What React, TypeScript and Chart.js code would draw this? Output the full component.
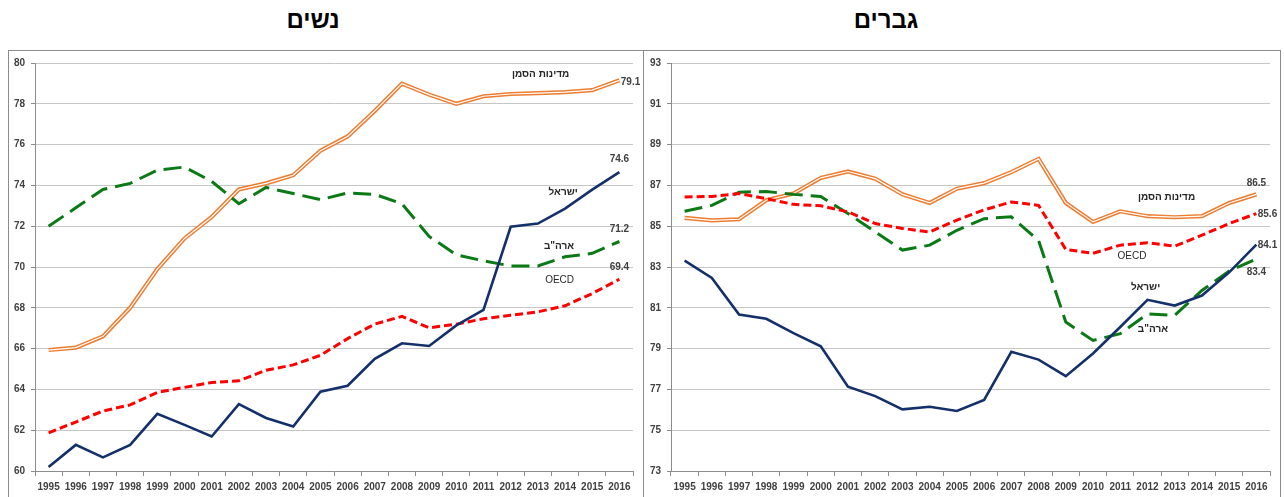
import React, { useEffect, useRef } from 'react';
import { Chart, registerables } from 'chart.js';

Chart.register(...registerables);

const years = ['1995','1996','1997','1998','1999','2000','2001','2002','2003','2004','2005','2006','2007','2008','2009','2010','2011','2012','2013','2014','2015','2016'];

// Women (left panel)
const womenIsrael = [60.2,61.28,60.67,61.28,62.8,62.26,61.69,63.28,62.6,62.18,63.89,64.18,65.5,66.26,66.13,67.14,67.9,71.97,72.13,72.86,73.79,74.65];
const womenUSA = [72.0,72.9,73.8,74.1,74.75,74.9,74.2,73.1,73.9,73.6,73.3,73.63,73.56,73.1,71.5,70.6,70.3,70.05,70.05,70.5,70.67,71.25];
const womenOECD = [61.87,62.4,62.94,63.24,63.85,64.1,64.34,64.42,64.94,65.2,65.67,66.49,67.2,67.58,67.02,67.2,67.46,67.63,67.8,68.1,68.7,69.4];
const womenBenchmark = [65.93,66.05,66.6,68.0,69.9,71.4,72.45,73.8,74.1,74.5,75.7,76.4,77.65,78.99,78.45,78.0,78.37,78.48,78.52,78.57,78.67,79.15];

// Men (right panel)
const menIsrael = [83.31,82.46,80.67,80.46,79.76,79.11,77.13,76.67,76.02,76.15,75.94,76.48,78.84,78.46,77.65,78.76,80.06,81.39,81.11,81.6,82.74,84.1];
const menUSA = [85.73,86.02,86.67,86.7,86.56,86.46,85.62,84.72,83.83,84.07,84.8,85.37,85.46,84.3,80.3,79.4,79.73,80.7,80.63,81.85,82.8,83.4];
const menOECD = [86.43,86.46,86.6,86.35,86.07,86.0,85.7,85.13,84.89,84.72,85.3,85.8,86.19,86.02,83.86,83.67,84.07,84.19,84.02,84.56,85.13,85.62];
const menBenchmark = [85.41,85.29,85.34,86.27,86.6,87.37,87.68,87.33,86.56,86.14,86.84,87.11,87.65,88.3,86.14,85.21,85.73,85.49,85.44,85.49,86.14,86.56];

const womenTitle = 'נשים';
const menTitle = 'גברים';

type Note = { text: string; x: number; y: number; align: CanvasTextAlign; bold: boolean; rtl?: boolean };

const womenNotes: Note[] = [
  { text: 'מדינות הסמן', x: 18.1, y: 79.46, align: 'center', bold: true, rtl: true },
  { text: '79.1', x: 21.05, y: 79.07, align: 'left', bold: true },
  { text: '74.6', x: 21.0, y: 75.26, align: 'center', bold: true },
  { text: 'ישראל', x: 18.93, y: 73.66, align: 'center', bold: true, rtl: true },
  { text: '71.2', x: 21.0, y: 71.83, align: 'center', bold: true },
  { text: 'ארה"ב', x: 18.78, y: 71.0, align: 'center', bold: true, rtl: true },
  { text: '69.4', x: 21.0, y: 69.98, align: 'center', bold: true },
  { text: 'OECD', x: 18.8, y: 69.34, align: 'center', bold: false },
];

const menNotes: Note[] = [
  { text: '86.5', x: 21.0, y: 87.12, align: 'center', bold: true },
  { text: 'מדינות הסמן', x: 17.7, y: 86.4, align: 'center', bold: true, rtl: true },
  { text: '85.6', x: 21.05, y: 85.6, align: 'left', bold: true },
  { text: 'OECD', x: 16.43, y: 83.51, align: 'center', bold: false },
  { text: '84.1', x: 21.05, y: 84.05, align: 'left', bold: true },
  { text: '83.4', x: 21.0, y: 82.73, align: 'center', bold: true },
  { text: 'ישראל', x: 16.93, y: 82.01, align: 'center', bold: true, rtl: true },
  { text: 'ארה"ב', x: 17.2, y: 79.93, align: 'center', bold: true, rtl: true },
];

const FONT = '"Liberation Sans", "DejaVu Sans", Arial, sans-serif';
const NAVY = '#14306B';
const GREEN = '#0B7A16';
const RED = '#FF0000';
const ORANGE = '#ED7D31';
const GRID = '#C6C6C6';
const AXIS = '#8C8C8C';
const TICK_TEXT = '#404040';

type PanelProps = {
  left: number;
  width: number;
  yAxisWidth: number;
  min: number;
  max: number;
  israel: number[];
  usa: number[];
  oecd: number[];
  bench: number[];
  notes: Note[];
};

function Panel(props: PanelProps) {
  const ref = useRef<HTMLCanvasElement | null>(null);
  useEffect(() => {
    const canvas = ref.current;
    if (!canvas) return;
    const notesPlugin = {
      id: 'notes',
      afterDatasetsDraw(chart: any) {
        const ctx = chart.ctx as CanvasRenderingContext2D;
        const xs = chart.scales.x;
        const ys = chart.scales.y;
        ctx.save();
        for (const n of props.notes) {
          ctx.font = `${n.bold ? 'bold ' : ''}10px ${FONT}`;
          ctx.fillStyle = n.rtl || !n.bold ? '#262626' : '#404040';
          ctx.textAlign = n.align;
          ctx.textBaseline = 'middle';
          (ctx as any).direction = n.rtl ? 'rtl' : 'ltr';
          ctx.fillText(n.text, xs.getPixelForValue(n.x), ys.getPixelForValue(n.y));
        }
        ctx.restore();
      },
    };
    const chart = new Chart(canvas, {
      type: 'line',
      data: {
        labels: years,
        datasets: [
          { data: props.israel, borderColor: NAVY, borderWidth: 2.6, pointRadius: 0, tension: 0, order: 1 },
          { data: props.oecd, borderColor: RED, borderWidth: 3, borderDash: [8, 4], pointRadius: 0, tension: 0, order: 2 },
          { data: props.usa, borderColor: GREEN, borderWidth: 3, borderDash: [18, 8], pointRadius: 0, tension: 0, order: 3 },
          { data: props.bench, borderColor: '#FFFFFF', borderWidth: 1.2, pointRadius: 0, tension: 0, order: 4 },
          { data: props.bench, borderColor: ORANGE, borderWidth: 4.2, pointRadius: 0, tension: 0, order: 5 },
        ],
      },
      options: {
        responsive: false,
        animation: false,
        events: [],
        layout: { padding: { left: 0, top: 11, right: 10, bottom: 0 } },
        plugins: { legend: { display: false }, tooltip: { enabled: false }, title: { display: false } },
        scales: {
          x: {
            type: 'category',
            offset: true,
            grid: { display: true, drawOnChartArea: false, offset: true, tickLength: 5, tickColor: AXIS, color: AXIS },
            border: { color: AXIS },
            ticks: { color: TICK_TEXT, font: { family: FONT, size: 10, weight: 'bold' }, padding: 5, maxRotation: 0, autoSkip: false },
            afterFit(scale: any) { scale.height = 26; },
          },
          y: {
            min: props.min,
            max: props.max,
            grid: { color: GRID, tickColor: AXIS, tickLength: 4 },
            border: { color: AXIS },
            ticks: { stepSize: 2, color: TICK_TEXT, font: { family: FONT, size: 10, weight: 'bold' }, padding: 6 },
            afterFit(scale: any) { scale.width = props.yAxisWidth; },
          },
        },
      },
      plugins: [notesPlugin],
    } as any);
    return () => chart.destroy();
  }, []);
  return (
    <canvas
      ref={ref}
      width={props.width}
      height={446}
      style={{ position: 'absolute', left: props.left, top: 51, width: props.width, height: 446, display: 'block' }}
    />
  );
}

export default function App() {
  return (
    <div style={{ position: 'fixed', left: 0, top: 0, width: 1284, height: 497, overflow: 'hidden', background: '#fff' }}>
      <div style={{ position: 'absolute', left: 8, top: 50, width: 634, height: 470, border: `1px solid ${AXIS}` }} />
      <div style={{ position: 'absolute', left: 643, top: 50, width: 636, height: 470, border: `1px solid ${AXIS}` }} />
      <div style={{ position: 'absolute', left: 213, top: 6, width: 200, textAlign: 'center', font: `bold 24px ${FONT}`, color: '#000', direction: 'rtl' }}>{womenTitle}</div>
      <div style={{ position: 'absolute', left: 786, top: 6, width: 200, textAlign: 'center', font: `bold 24px ${FONT}`, color: '#000', direction: 'rtl' }}>{menTitle}</div>
      <Panel left={9} width={634} yAxisWidth={26} min={60} max={80}
        israel={womenIsrael} usa={womenUSA} oecd={womenOECD} bench={womenBenchmark} notes={womenNotes} />
      <Panel left={644} width={636} yAxisWidth={27} min={73} max={93}
        israel={menIsrael} usa={menUSA} oecd={menOECD} bench={menBenchmark} notes={menNotes} />
    </div>
  );
}
